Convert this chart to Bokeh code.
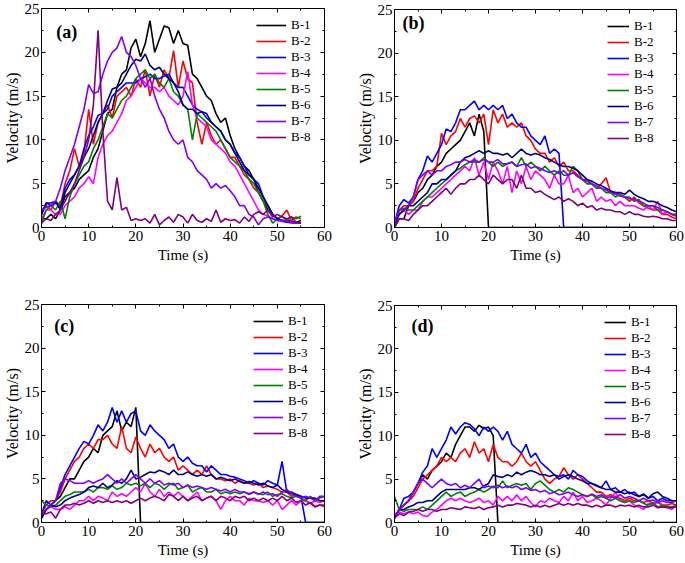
from bokeh.plotting import figure
from bokeh.layouts import row, column
from bokeh.models import Range1d, LinearAxis, Legend, LegendItem, Label, FixedTicker
from bokeh.embed import file_html
from bokeh.resources import INLINE

# ---------------- data ----------------
series_names = ["B-1", "B-2", "B-3", "B-4", "B-5", "B-6", "B-7", "B-8"]
series_colors = ["#000000", "#ff0000", "#0000ff", "#ff00ff", "#008000", "#000080", "#8000ff", "#800080"]

x_ticks = [0, 10, 20, 30, 40, 50, 60]
x_minor = [5, 15, 25, 35, 45, 55]
y_ticks = [0, 5, 10, 15, 20, 25]
y_minor = [2.5, 7.5, 12.5, 17.5, 22.5]

t_a = [0, 1, 2, 3, 4, 5, 6, 7, 8, 9, 10, 11, 12, 13, 14, 15, 16, 17, 18, 19, 20, 21, 22, 23, 24, 25, 26, 27,
       28, 29, 30, 31, 32, 33, 34, 35, 36, 37, 38, 39, 40, 41, 42, 43, 44, 45, 46, 47, 48, 49, 50, 51, 52, 53, 54, 55]
t_bcd = [0, 1, 2, 3, 4, 5, 6, 7, 8, 9, 10, 11, 12, 13, 14, 15, 16, 17, 18, 19, 20, 21, 22, 23, 24, 25, 26, 27,
         28, 29, 30, 31, 32, 33, 34, 35, 36, 37, 38, 39, 40, 41, 42, 43, 44, 45, 46, 47, 48, 49, 50, 51, 52, 53,
         54, 55, 56, 57, 58, 59, 60]

# panel (a)
a_b1 = [1, 1, 1.5, 1, 2, 3.5, 4, 4.5, 5.5, 6, 6.5, 8, 9, 11, 13, 13.5, 16, 17.5, 18, 20.5, 21.5, 19.5, 21, 23.6, 20,
        21.5, 23, 22.8, 21, 22.5, 21, 20.8, 17.5, 17, 16, 15, 14.5, 13, 12, 12.5, 10.5, 9, 8, 7, 6.5, 5.5, 4, 3, 2,
        1.5, 1, 0.8, 0.8, 0.7, 0.6, 0.8]
a_b2 = [2, 2.5, 2, 3, 2.5, 5, 6.5, 9, 7, 8.5, 13.5, 9.5, 12, 13, 14, 12.5, 15, 15.5, 16, 15, 17, 16, 18, 15, 17.5,
        16, 18, 17, 20.2, 16, 19, 17, 16.5, 12, 9.5, 12, 10.5, 9.5, 10, 9, 8, 8, 7, 6, 5.5, 4.5, 4, 3, 2.5, 1.5,
        1, 1.3, 2, 0.8, 1.2, 1]
a_b3 = [1.5, 2.8, 2.5, 2.8, 2.2, 4.5, 5.5, 6, 7, 9, 10.5, 11.5, 12.8, 13, 13.5, 15, 15.5, 16, 16.5, 16.5, 16.5, 17,
        17.2, 17.5, 17, 17, 17.3, 17.5, 16.5, 16, 16, 15, 14, 13.5, 13.2, 12.5, 12, 11.5, 11, 10, 9.5, 8.5, 8, 7, 6,
        5.5, 5, 3.5, 2.5, 1.5, 1, 0.8, 0.8, 0.6, 0.5, 0.5]
a_b4 = [1, 2, 2, 1.5, 1.5, 2.5, 3, 3.5, 4.5, 5, 5.8, 5, 8, 9.5, 10.5, 11, 12, 13, 14.5, 15, 16, 17, 16.5, 16, 16,
        15.5, 16, 15, 14.5, 14, 15, 17.8, 14, 12.5, 12, 11.5, 10, 9.5, 9, 8.5, 7.5, 7, 6, 5, 4, 3, 2, 1.5, 1.3, 1,
        0.8, 0.7, 0.6, 0.5, 0.5, 0.5]
a_b5 = [0.5, 2, 2.5, 2, 3, 1, 3.5, 5, 6, 7, 7.5, 9, 10, 11.5, 13, 12.5, 13.5, 14.5, 15, 16, 17, 17.5, 18, 17, 17.5,
        16.5, 16, 17, 15.5, 15, 14, 13.5, 10, 13, 12.5, 12, 11.5, 11, 10, 9, 8, 7.5, 7, 6.5, 5.5, 5, 4, 3, 1.5, 0.5,
        1, 1.3, 0.8, 1.2, 1, 1.3]
a_b6 = [1.5, 2.8, 2.8, 3, 2, 4, 5, 6, 7, 8, 9, 10.5, 12, 13, 14.5, 15.8, 16, 16.5, 17.5, 18.5, 19.2, 19, 19.8, 18.5,
        18, 18.3, 17.5, 17, 16.5, 15.5, 14, 13.5, 13.5, 13, 13.2, 13, 12, 11.5, 11, 10, 9.5, 8.5, 7.5, 6.5, 6, 5.5,
        4.5, 3.5, 2.5, 1.5, 1, 0.8, 0.6, 0.6, 0.5, 0.5]
a_b7 = [2, 2.3, 2.5, 3, 4.5, 6.5, 8, 9.5, 11.5, 13.5, 16.3, 15.3, 15.5, 17.5, 19, 20, 20.5, 21.8, 20, 19.5, 18.5, 17,
        16, 17, 15, 13.5, 12.5, 11, 10, 9.5, 10, 8, 7.5, 6.5, 6, 5.5, 4.5, 5, 4.5, 4.8, 4.2, 3.5, 2.5, 2.5, 1.5, 1.2,
        0.3, 1, 1.2, 1, 0.8, 0.8, 0.7, 0.6, 0.5, 0.5]
a_b8 = [0.5, 1, 0.8, 1.5, 2, 3, 4, 5, 6.5, 8, 10, 14, 22.5, 11, 3, 2, 5.7, 2, 2.3, 0.8, 1, 0.8, 1, 0.5, 1.5, 0.3,
        0.8, 1.2, 0.6, 1.5, 1.2, 0.5, 1.5, 0.8, 0.6, 1, 0.7, 2, 0.6, 1, 0.8, 0.9, 0.5, 1.2, 0.7, 1.5, 1.8, 1.5, 2,
        1.2, 1.5, 1.2, 1, 1.2, 0.6, 0.5]

# panel (b)
b_b1 = [0, 1, 1, 2.5, 3, 4, 4.5, 5.5, 6, 7, 7.5, 8.5, 9, 9.5, 10, 11, 12, 10.5, 13, 11,
        0, 0, 0, 0, 0, 0, 0, 0, 0, 0, 0, 0, 0, 0, 0, 0, 0, 0, 0, 0,
        0, 0, 0, 0, 0, 0, 0, 0, 0, 0, 0, 0, 0, 0, 0, 0, 0, 0, 0, 0, 0]
b_b2 = [0, 2, 2.5, 2.5, 3, 4.5, 5.5, 6.5, 6.5, 7, 10.8, 9.5, 10.5, 11, 12.5, 11.5, 12.5, 12.8, 12, 13,
        9.5, 13.5, 12, 13, 11.5, 12, 11.5, 12, 10.5, 10, 9, 8.5, 8.5, 7.5, 8, 7, 7.5, 6.5, 6.5, 6,
        5.5, 5.5, 5, 4.5, 5, 5.7, 4, 4, 3.8, 3.5, 3, 3.5, 2.8, 2.5, 2.2, 2, 2, 1.5, 1.5, 1.2, 1]
b_b3 = [0.5, 2.5, 3.2, 2.8, 3.5, 5.5, 6.5, 8.2, 7.5, 8.5, 9.5, 11.3, 11, 12, 13.5, 13.5, 14, 14.5, 13.5, 14,
        13.5, 14, 13.5, 14, 12.5, 13, 12, 11.5, 11.5, 10.5, 10, 9.5, 10.5, 8.5, 9, 8.5,
        0, 0, 0, 0, 0, 0, 0, 0, 0, 0, 0, 0, 0, 0, 0, 0, 0, 0, 0, 0, 0, 0, 0, 0, 0]
b_b4 = [0, 1.5, 2, 1.5, 2, 2, 3, 3.5, 3.5, 4, 4.5, 5, 5.5, 6, 6.5, 7, 6.5, 8, 6, 7.5,
        5.5, 7.5, 6.5, 5, 7, 4, 6.5, 5, 7, 5.5, 6.5, 6, 5.5, 4.5, 6, 5, 5, 6, 4, 4.5,
        3.5, 4, 4.5, 3, 3.5, 3, 3.2, 2.5, 3, 2.5, 2.5, 2.5, 2.2, 2, 2.5, 2, 3, 1.5, 1.8, 1.5, 1.5]
b_b5 = [0, 2, 2.2, 2, 2, 2.5, 3, 3.5, 4, 4.5, 5, 5.5, 6, 6.5, 6.8, 7.2, 7.5, 7.5, 7.5, 8,
        7.5, 7, 7.5, 7, 7.3, 7.5, 7, 8, 7, 7.5, 7, 6.5, 7, 6.5, 6, 6.5, 6, 6, 7, 6.5,
        5.5, 5, 5, 4.5, 4.5, 4, 4, 3.5, 3.8, 3.5, 3.5, 3, 3.2, 2.5, 2.5, 2.5, 2, 2, 1.8, 1.5, 1.5]
b_b6 = [0.5, 1.5, 2, 2.5, 2.5, 3, 3.5, 4, 5, 5, 5.5, 5.5, 6, 6.5, 7.5, 8, 8.2, 8.5, 8.8, 8.5,
        8.8, 8.5, 8.5, 8.3, 8.5, 8, 8.5, 9, 8.5, 8.3, 8.5, 8.3, 8, 7.8, 7.5, 7.2, 7, 7, 6.8, 6.5,
        6, 5.5, 5.3, 5, 4.8, 4.5, 4.2, 4, 4, 3.8, 4.3, 3.8, 3.5, 3.3, 3, 3, 2.8, 2.5, 2.3, 2, 1.8]
b_b7 = [0.5, 2, 2, 2.5, 3.5, 5.5, 6, 6.5, 6, 6.5, 6.5, 7, 7.2, 7.5, 7.5, 7.8, 7.5, 7.8, 7.5, 7.8,
        7.5, 7.5, 7.8, 7.3, 7.3, 7.5, 7, 7.2, 7.3, 6.8, 7, 6.8, 6.5, 6.3, 6.5, 6.2, 6.5, 6, 6.3, 5.8,
        5.5, 5.3, 5, 4.8, 4.5, 4.3, 4, 3.8, 3.6, 3.5, 3.3, 3.2, 3, 2.8, 2.5, 2.5, 2.3, 2, 1.8, 1.5, 1.3]
b_b8 = [0.2, 1, 1, 0.8, 1.5, 2, 2.5, 2.5, 3, 3.5, 4, 4.5, 3.8, 4.5, 5, 5, 5.5, 5.5, 6, 5.5,
        5, 6, 5.5, 5, 5.5, 5.5, 4.5, 6, 4.5, 4.5, 4, 4.2, 3.8, 3.5, 3.2, 3.5, 3, 3.3, 3, 2.5,
        2.8, 2.3, 2.5, 2, 2.2, 2, 2, 1.8, 1.8, 1.5, 1.8, 1.5, 1.5, 1.3, 1.2, 1.3, 1.2, 1, 1, 0.8, 0.8]

# panel (c)
c_b1 = [0.5, 1.5, 2, 2.5, 3, 4, 5, 5, 6, 7, 7.5, 8.5, 8, 10, 10.5, 11, 12.8, 10.5, 11.5, 11, 13.2,
        0, 0, 0, 0, 0, 0, 0, 0, 0, 0, 0, 0, 0, 0, 0, 0, 0, 0, 0, 0,
        0, 0, 0, 0, 0, 0, 0, 0, 0, 0, 0, 0, 0, 0, 0, 0, 0, 0, 0, 0]
c_b2 = [1, 2, 2.5, 2.5, 3.5, 5, 6, 7, 7.5, 8.5, 9, 8.5, 9.5, 9.5, 10, 9, 8.5, 11, 8.5, 8,
        9.8, 8.5, 7.5, 9, 8, 8.5, 7.5, 7, 7.5, 6, 6.5, 6, 5.5, 6, 5.5, 6.5, 5.5, 5, 5, 4.8,
        5, 4.5, 4.8, 4.5, 4.5, 4.3, 4.5, 4, 4.2, 4, 3.8, 3.5, 3.5, 3, 3.2, 2.8, 2.5, 2.2, 1.8, 2, 1.8]
c_b3 = [1, 2.5, 2, 2.5, 4, 5.5, 6.5, 7.5, 8.5, 9.3, 9, 10, 11.2, 10.5, 11.5, 13.2, 11.5, 12.8, 11.5, 12.5,
        12.8, 10.5, 10, 11.2, 10.5, 10, 9.5, 8.5, 9, 7.5, 7, 7.5, 6.8, 6.5, 6.5, 5.8, 6.5, 6, 5.5, 5.5,
        5.3, 5.2, 5, 4.8, 4.5, 4.8, 4.5, 4.3, 4.8, 4.5, 4.3, 7, 3.5, 3.5, 3.2, 3, 0, 0, 0, 0, 0]
c_b4 = [1, 1.5, 1.8, 1.5, 1.5, 1.8, 1.5, 2, 2.5, 2.5, 3, 2.5, 3, 2.8, 2.5, 3.5, 3, 3.3, 3, 3.5,
        4, 3.5, 4.5, 3.5, 3, 3.8, 3, 3.5, 3, 3.5, 3, 2.5, 3, 3.5, 2.5, 2.8, 3, 2.5, 1.5, 2.5,
        3, 2.5, 2.5, 2, 2.8, 2.5, 2.5, 2.3, 2.5, 2, 2.5, 1.5, 2, 2.5, 2, 2.5, 2.5, 2.2, 2.5, 2.3, 2.5]
c_b5 = [2.5, 2, 1.8, 2, 2.5, 3, 3.2, 3.5, 3.5, 3.5, 3.8, 3.5, 4, 4, 3.8, 4.2, 3.8, 4, 4.5, 4.3,
        4.5, 4.2, 4.5, 4, 4.5, 4.3, 3.8, 4.3, 4.5, 3.8, 4, 4.3, 3.5, 3.8, 4, 3.5, 3.5, 3.8, 3.3, 3.5,
        3.3, 3.5, 3.3, 3.5, 3.2, 3.5, 3.3, 3.2, 3.5, 3, 3.2, 3.3, 3, 2.8, 3, 2.8, 2.5, 3, 2.5, 2.8, 3]
c_b6 = [0.5, 1.5, 2, 1.8, 2, 2.5, 2.8, 3, 3.2, 3.5, 4, 4.2, 4, 4.5, 4, 4.3, 4.8, 4.5, 5, 6,
        5, 5.2, 5.5, 5.8, 5.7, 6, 5.8, 5.5, 6, 5.5, 5.5, 5.8, 5.5, 5.3, 5.5, 5.3, 5.5, 5, 5.2, 5,
        4.8, 5, 4.7, 4.5, 4.7, 4.5, 4.3, 4.5, 4.2, 4, 4.3, 3.8, 3.5, 3.3, 3.2, 3, 2.8, 2.8, 2.8, 2.5, 2.5]
c_b7 = [1, 1.5, 2, 2.5, 4.5, 5, 4.8, 4.5, 4.5, 4.5, 4.8, 4.5, 4.8, 5, 5.5, 5, 4.5, 5, 4.5, 5,
        5.5, 5, 4.5, 5, 4.5, 4.8, 4.3, 4.5, 4.3, 4.5, 4, 4.3, 4, 4.2, 4, 3.8, 4, 3.8, 3.6, 3.8,
        3.5, 3.8, 3.5, 3.5, 3.3, 3.5, 3.2, 3.5, 3.2, 3.3, 3, 3.5, 3.8, 3.3, 3, 2.8, 3, 2.8, 2.5, 3, 3]
c_b8 = [1, 1, 1.2, 0.5, 1.5, 2, 2, 2.2, 2, 2.2, 2.5, 2.2, 2.5, 2.3, 2.5, 2.3, 2.5, 2.3, 2.5, 2.2,
        2.5, 2.8, 2.5, 2.8, 3, 2.8, 2.5, 3.2, 3, 2.5, 3, 2.5, 2.8, 3, 2.5, 2.8, 3, 2.5, 3, 2.8,
        2.5, 3, 2.8, 3, 2.5, 2.8, 2.5, 2.8, 2.5, 2.8, 2.5, 3, 2.5, 2.8, 2.3, 2.5, 2, 2.3, 1.8, 2, 2]

# panel (d)
d_b1 = [0.5, 1.5, 2, 2.5, 3.5, 4.5, 5.5, 5, 6, 6.5, 7, 8, 7.5, 9, 10, 11, 11, 10.5, 11.2, 10.8, 11, 10,
        0, 0, 0, 0, 0, 0, 0, 0, 0, 0, 0, 0, 0, 0, 0, 0, 0, 0, 0, 0,
        0, 0, 0, 0, 0, 0, 0, 0, 0, 0, 0, 0, 0, 0, 0, 0, 0, 0, 0]
d_b2 = [0.5, 1.5, 2, 2.5, 3, 4, 5, 5.5, 6, 6.5, 7.5, 7, 7.5, 7, 8, 8.5, 7.5, 9.3, 8, 8.5,
        7, 9, 7.5, 7, 7, 6.5, 7, 8, 7, 6.5, 7, 6, 5, 4.5, 5, 5.3, 6.3, 5.5, 5, 5.5,
        5, 4.5, 4, 3.5, 3.5, 3, 3.2, 3, 2.8, 2.5, 2.8, 2.5, 2.5, 2.3, 2.5, 2.2, 2.3, 2, 2, 2.2, 2]
d_b3 = [0.5, 1.5, 2.8, 3, 3.5, 4.5, 5.8, 6.5, 8.5, 7.5, 8.5, 9.5, 11, 10.2, 11, 11.5, 11.3, 10.8, 10, 11,
        10.5, 11, 10.5, 9.5, 10.5, 9, 8.5, 8, 9, 7.5, 8, 7, 6.5, 6, 5.5, 5.3, 5.5, 5, 6, 5.5,
        5.3, 4.8, 4.5, 4.3, 4, 4.8, 3.8, 4, 3.5, 3.8, 3.3, 3.5, 3, 3.3, 2.8, 3, 2.5, 2.8, 2.5, 2.5, 2.5]
d_b4 = [1, 1.2, 1, 1.2, 1, 1.2, 0.8, 0.7, 1.2, 1.5, 2, 2.5, 2.8, 2.5, 2.8, 2.5, 2.3, 2.5, 2.8, 2.3,
        2.5, 2, 3, 2.5, 3, 2.5, 3.2, 2.5, 3, 2.3, 1.8, 2.5, 2.3, 2.8, 2.5, 2.3, 3, 2.5, 3.5, 2.5,
        3, 2.3, 2.5, 2.8, 2.5, 2, 2.8, 3.5, 2.5, 2.3, 2.5, 2, 1.8, 1.5, 2.2, 2, 2.5, 2, 1.8, 1.5, 2]
d_b5 = [3, 1.5, 1.3, 1.5, 1.5, 1.5, 1.8, 1.5, 2, 2.5, 3, 3.5, 3, 3.3, 3.5, 3, 3.3, 3.5, 3.8, 3.5,
        3.8, 4.2, 4, 4.8, 4, 4.3, 4.5, 4.3, 4.5, 3.8, 4.5, 4.8, 4.3, 3.8, 3.5, 3.8, 3.5, 4, 3.8, 3.5,
        3.2, 3, 3.2, 2.8, 3, 2.8, 2.5, 2.8, 2.5, 2.3, 2.5, 2.3, 2.5, 2.2, 2, 2.3, 1.8, 2, 1.8, 1.8, 2]
d_b6 = [0.5, 1.5, 1.5, 1.8, 2, 2.3, 2.3, 2.5, 2.5, 3, 3.5, 3.8, 3.8, 3.8, 3.8, 3.8, 4, 4, 3.8, 4.2,
        4.5, 5.5, 5.3, 5.2, 5.5, 5.3, 5.8, 5.5, 5.8, 6, 5.8, 5.5, 5.5, 5.3, 5.5, 5, 5.3, 5.5, 5.3, 5,
        4.8, 4.5, 4.5, 4.2, 4, 3.8, 3.8, 3.5, 3.5, 3.3, 3.5, 3.2, 3, 3.2, 2.8, 3.3, 3.5, 3, 2.8, 2.5, 2.5]
d_b7 = [0.5, 1.5, 2, 2.5, 3.5, 4.5, 5, 4.5, 4, 4.5, 5, 4.5, 4.3, 4.5, 4, 4.3, 4, 4.5, 5, 4,
        4.2, 4, 4.3, 4, 4.2, 4, 4.2, 3.8, 4, 3.7, 3.8, 3.5, 3.7, 3.3, 3.5, 3.2, 3.3, 3.5, 3.2, 3,
        3.2, 3, 3.3, 3, 3.2, 2.8, 3, 2.8, 3.2, 2.8, 3, 2.8, 2.5, 2.8, 2.5, 2.6, 2.3, 2.5, 2.3, 2.3, 2.5]
d_b8 = [0.5, 1, 0.8, 1.2, 1.3, 1.5, 1.3, 1.5, 1.5, 1.3, 1.5, 1.5, 1.7, 1.6, 1.5, 1.8, 1.7, 1.6, 1.8, 1.5,
        1.7, 1.8, 2, 1.8, 2, 2, 2.2, 2.1, 2, 1.8, 2, 1.8, 2, 1.8, 2, 2.2, 2, 2.2, 2, 2.2,
        2, 2, 1.8, 2, 1.8, 2, 2, 1.8, 2, 1.9, 2, 1.8, 2, 1.8, 1.8, 2, 1.7, 1.8, 1.7, 1.7, 1.8]

# ---------------- plotting ----------------
FONT = "Liberation Serif, Times New Roman, DejaVu Serif, serif"


def style_axis(ax, labels=True):
    ax.axis_line_color = "black"
    ax.axis_line_width = 1
    ax.major_tick_in = 4
    ax.major_tick_out = 0
    ax.minor_tick_in = 2
    ax.minor_tick_out = 0
    ax.major_tick_line_color = "black"
    ax.minor_tick_line_color = "black"
    ax.major_label_text_font = FONT
    ax.major_label_text_color = "black"
    ax.axis_label_text_font = FONT
    ax.axis_label_text_font_style = "normal"
    ax.axis_label_text_color = "black"
    ax.major_label_text_font_size = "15px"
    if labels:
        ax.major_label_standoff = 3
        ax.axis_label_standoff = 3
    else:
        ax.major_label_standoff = 0
        ax.axis_label = None


def make_panel(tag, t, ys, width, height, bl, br, bt, bb, glyph_w, label_w, off_x, off_y):
    p = figure(width=width, height=height, x_range=Range1d(0, 60), y_range=Range1d(0, 25),
               output_backend="svg", toolbar_location=None,
               min_border_left=bl, min_border_right=br, min_border_top=bt, min_border_bottom=bb,
               x_axis_label="Time (s)", y_axis_label="Velocity (m/s)")
    p.grid.visible = False
    p.outline_line_color = "black"
    p.background_fill_color = "white"
    p.border_fill_color = "white"

    p.xaxis.ticker = FixedTicker(ticks=x_ticks, minor_ticks=x_minor)
    p.yaxis.ticker = FixedTicker(ticks=y_ticks, minor_ticks=y_minor)
    for ax in p.xaxis:
        style_axis(ax)
        ax.axis_label_text_font_size = "15px"
    for ax in p.yaxis:
        style_axis(ax)
        ax.axis_label_text_font_size = "16px"
        ax.major_label_standoff = 2
        ax.axis_label_standoff = 1

    top = LinearAxis(ticker=FixedTicker(ticks=x_ticks, minor_ticks=x_minor),
                     major_label_overrides={v: "" for v in x_ticks})
    style_axis(top, labels=False)
    p.add_layout(top, "above")
    right = LinearAxis(ticker=FixedTicker(ticks=y_ticks, minor_ticks=y_minor),
                       major_label_overrides={v: "" for v in y_ticks})
    style_axis(right, labels=False)
    p.add_layout(right, "right")

    items = []
    for name, color, y in zip(series_names, series_colors, ys):
        r = p.line(t, y, line_color=color, line_width=1.6)
        items.append(LegendItem(label=name, renderers=[r]))

    legend = Legend(items=items, location="top_right", margin=9, padding=0, spacing=0,
                    glyph_width=glyph_w, glyph_height=16, label_height=16, label_width=label_w,
                    label_standoff=5, label_text_font=FONT, label_text_font_size="13px",
                    label_text_color="black", border_line_color=None, background_fill_alpha=0)
    p.add_layout(legend)

    fw = width - bl - br
    fh = height - bt - bb
    lab = Label(x=off_x * 60.0 / fw, y=25 - off_y * 25.0 / fh, text=tag, text_font=FONT,
                text_font_size="18px", text_font_style="bold", text_color="black",
                text_baseline="middle", text_align="left")
    p.add_layout(lab)
    return p


pa = make_panel("(a)", t_a, [a_b1, a_b2, a_b3, a_b4, a_b5, a_b6, a_b7, a_b8],
                340, 270, 38, 16, 8, 43, 30, 24, 15, 23)
pb = make_panel("(b)", t_bcd, [b_b1, b_b2, b_b3, b_b4, b_b5, b_b6, b_b7, b_b8],
                344, 270, 54, 8, 9, 43, 22, 33, 8, 13)
pc = make_panel("(c)", t_bcd, [c_b1, c_b2, c_b3, c_b4, c_b5, c_b6, c_b7, c_b8],
                340, 292, 38, 16, 34, 40, 30, 27, 13, 21)
pd = make_panel("(d)", t_bcd, [d_b1, d_b2, d_b3, d_b4, d_b5, d_b6, d_b7, d_b8],
                344, 292, 54, 8, 35, 40, 22, 36, 17, 20)

layout = row(column(pa, pc), column(pb, pd))

with open("out.html", "w") as f:
    f.write(file_html(layout, INLINE))
